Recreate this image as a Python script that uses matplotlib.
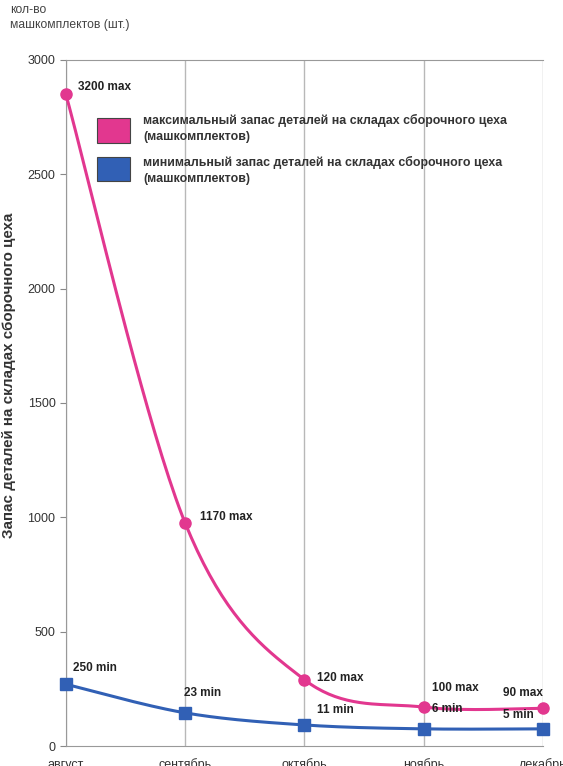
import numpy as np
import matplotlib.pyplot as plt

plt.rcParams['font.family'] = ['Liberation Sans', 'DejaVu Sans']

months = ["август", "сентябрь", "октябрь", "ноябрь", "декабрь"]
max_stock = [2850, 975, 290, 170, 165]
min_stock = [270, 145, 92, 75, 75]
max_labels = ["3200 max", "1170 max", "120 max", "100 max", "90 max"]
min_labels = ["250 min", "23 min", "11 min", "6 min", "5 min"]

pink = "#e2378f"
blue = "#3160b5"

fig = plt.figure(figsize=(5.63, 7.66), dpi=100)
ax = fig.add_axes([0.117, 0.0261, 0.8475, 0.8956])
x = np.arange(len(months))
ax.set_xlim(0, len(months) - 1)
ax.set_ylim(0, 3000)


def smooth(ax, xs, ys, n=40):
    # excel-style smoothed line: bezier through points, built in screen space
    pts = ax.transData.transform(np.column_stack([xs, ys]))
    out = []
    for i in range(len(pts) - 1):
        p0 = pts[max(i - 1, 0)]
        p1 = pts[i]
        p2 = pts[i + 1]
        p3 = pts[min(i + 2, len(pts) - 1)]
        c1 = p1 + (p2 - p0) / 6
        c2 = p2 - (p3 - p1) / 6
        t = np.linspace(0, 1, n)[:, None]
        seg = ((1 - t) ** 3) * p1 + 3 * ((1 - t) ** 2) * t * c1 + 3 * (1 - t) * t ** 2 * c2 + t ** 3 * p2
        out.append(seg)
    out = np.vstack(out)
    return ax.transData.inverted().transform(out)


c = smooth(ax, x, max_stock)
ax.plot(c[:, 0], c[:, 1], color=pink, lw=2.2, zorder=3, clip_on=False)
ax.plot(x, max_stock, 'o', color=pink, ms=8, zorder=4, clip_on=False)
c = smooth(ax, x, min_stock)
ax.plot(c[:, 0], c[:, 1], color=blue, lw=2.2, zorder=3, clip_on=False)
ax.plot(x, min_stock, 's', color=blue, ms=8, zorder=4, clip_on=False)

# value captions
max_off = [(9, 5), (11, 4), (9, 1), (6, 14), (-29, 11)]
min_off = [(5, 12), (-1, 14), (9, 11), (6, 14), (-29, 10)]
for i in range(len(months)):
    ax.annotate(max_labels[i], (x[i], max_stock[i]), xytext=max_off[i], textcoords='offset points',
                fontsize=8.5, fontweight='bold', color='#222222', va='center', ha='left', zorder=5)
    ax.annotate(min_labels[i], (x[i], min_stock[i]), xytext=min_off[i], textcoords='offset points',
                fontsize=8.5, fontweight='bold', color='#222222', va='center', ha='left', zorder=5)

ax.set_xticks(x)
ax.set_xticklabels(months, fontsize=9, color='#333333')
ax.set_yticks(np.arange(0, 3001, 500))
ax.tick_params(axis='y', labelsize=9, colors='#333333', length=4, color='#888888')
ax.tick_params(axis='x', length=0, pad=9)
ax.grid(axis='x', color='#b8b8b8', lw=1)
for s in ['left', 'bottom', 'top']:
    ax.spines[s].set_color('#999999')
ax.spines['right'].set_visible(False)
ax.set_ylabel("Запас деталей на складах сборочного цеха", fontsize=10.9, fontweight='bold',
              color='#333333')
ax.yaxis.set_label_coords(-0.104, 0.541)

fig.text(0.018, 0.977, "кол-во\nмашкомплектов (шт.)", fontsize=8.7, color='#444444',
         va='center', ha='left', linespacing=1.3)

# legend
fig.patches.append(plt.Rectangle((0.173, 0.813), 0.058, 0.033, transform=fig.transFigure,
                                 facecolor=pink, edgecolor='#444444', lw=0.8))
fig.patches.append(plt.Rectangle((0.173, 0.764), 0.058, 0.031, transform=fig.transFigure,
                                 facecolor=blue, edgecolor='#444444', lw=0.8))
fig.text(0.254, 0.832, "максимальный запас деталей на складах сборочного цеха\n(машкомплектов)",
         fontsize=8.9, fontweight='bold', color='#333333', va='center', linespacing=1.45)
fig.text(0.254, 0.777, "минимальный запас деталей на складах сборочного цеха\n(машкомплектов)",
         fontsize=8.9, fontweight='bold', color='#333333', va='center', linespacing=1.45)

fig.savefig("out.png", dpi=100)
